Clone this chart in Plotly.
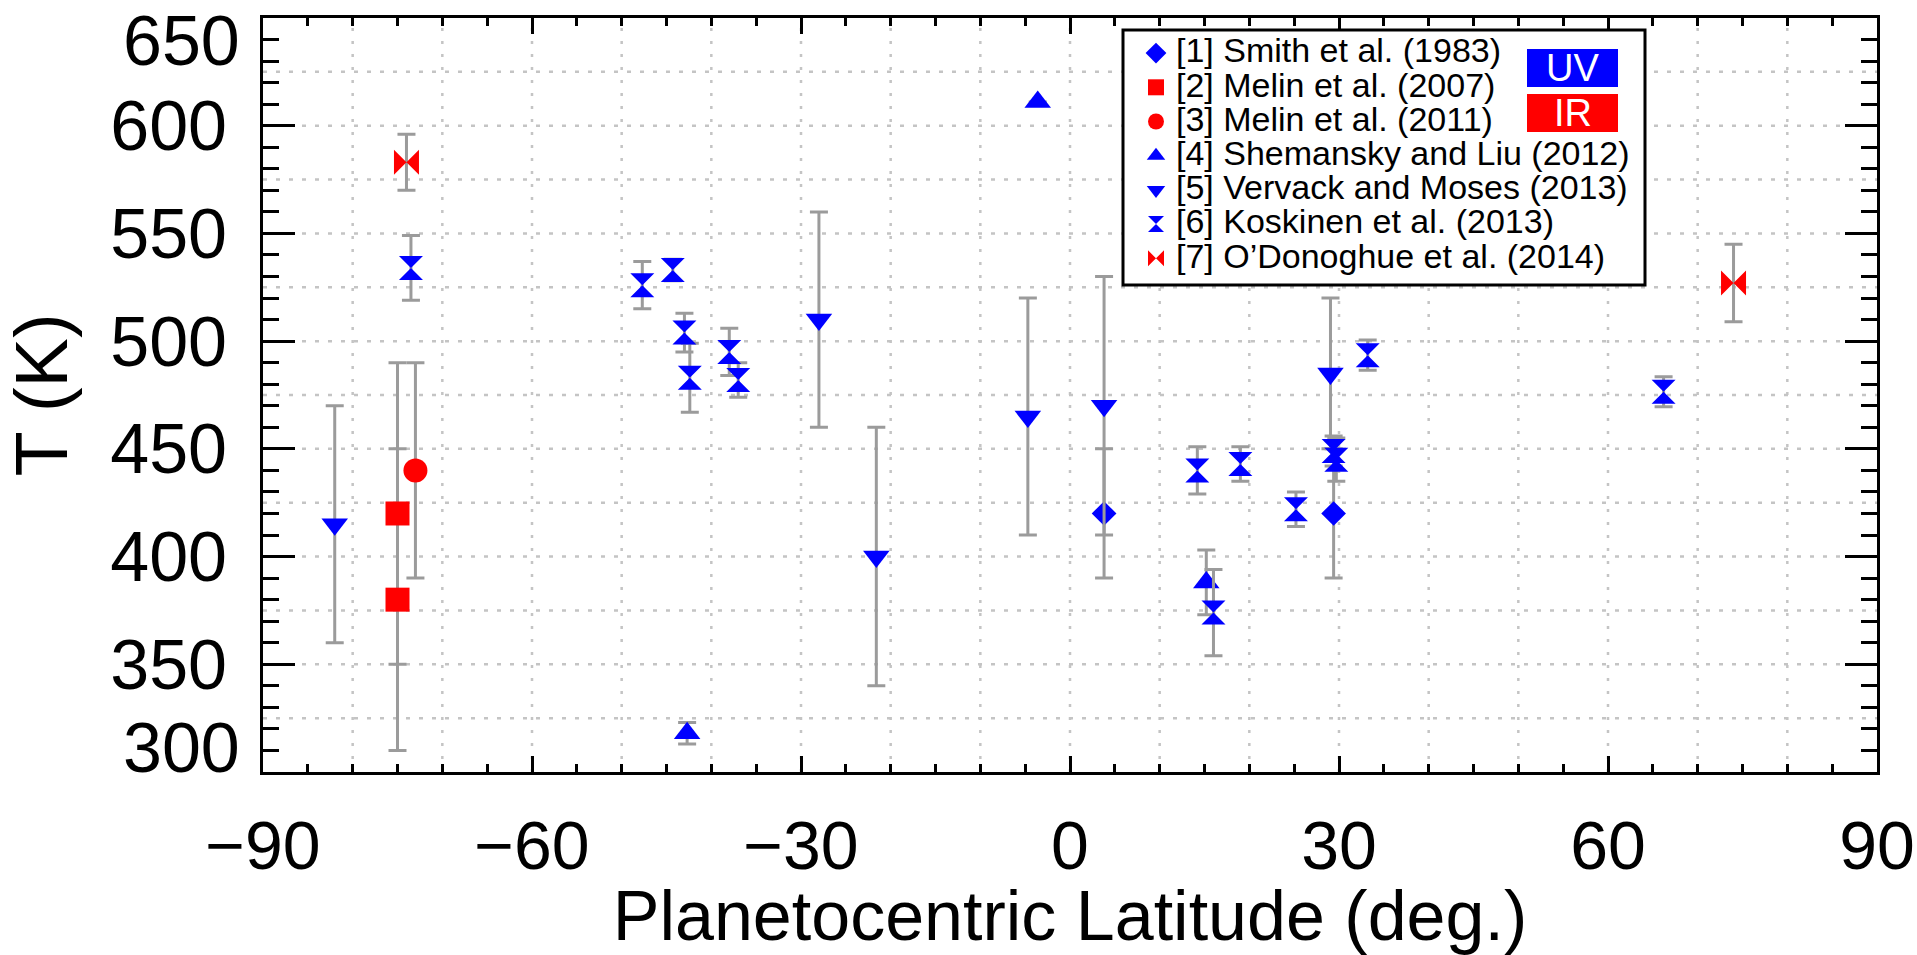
import plotly.graph_objects as go

# ---------------- data ----------------
smith_lat = [3.8, 29.4]
smith_T = [420, 420]
smith_err = [30, 30]

melin07_lat = [-75.0, -75.0]
melin07_T = [420, 380]
melin07_err = [70, 70]

melin11_lat = [-73.0]
melin11_T = [440]
melin11_err = [50]

shem_lat = [-42.7, -3.6, 15.2]
shem_T = [318, 611, 388]
shem_err = [5, 0, 15]

verv_lat = [-82.0, -28.0, -21.6, -4.7, 3.8, 29.05]
verv_T = [415, 510, 400, 465, 470, 485]
verv_err = [55, 50, 60, 55, 60, 35]

kosk_lat = [-73.5, -47.7, -44.3, -43.0, -42.4, -38.0, -37.0,
            14.2, 16.0, 19.0, 25.2, 29.4, 29.7, 33.2, 66.2]
kosk_T = [534, 526, 533, 504, 483, 495, 482,
          440, 374, 443, 422, 449, 445, 493.5, 476.5]
kosk_err = [15, 11, 5, 9, 16, 11, 8,
            11, 20, 8, 8, 7, 10, 7, 7]

odon_lat = [-74.0, 74.0]
odon_T = [583, 527]
odon_err = [13, 18]

names = ["[1] Smith et al. (1983)",
         "[2] Melin et al. (2007)",
         "[3] Melin et al. (2011)",
         "[4] Shemansky and Liu (2012)",
         "[5] Vervack and Moses (2013)",
         "[6] Koskinen et al. (2013)",
         "[7] O\u2019Donoghue et al. (2014)"]

x_range = [-90, 90]
x_ticks = [-90, -60, -30, 0, 30, 60, 90]
y_range = [300, 650]
y_ticks = [300, 350, 400, 450, 500, 550, 600, 650]

# ---------------- styling ----------------
FONT = "Liberation Sans, Arial, Helvetica, sans-serif"
BLUE = "#0000ff"
RED = "#ff0000"
GRAY = "#9b9b9b"
GRID = "#c4c4c4"

W, H = 1917, 955
ML, MR, MT, MB = 263, 40, 18, 183
PW, PH = W - ML - MR, H - MT - MB


def pxx(p):
    return (p - ML) / PW


def pxy(p):
    return (H - MB - p) / PH


series = [
    (names[0], smith_lat, smith_T, smith_err, "diamond", BLUE, 19),
    (names[1], melin07_lat, melin07_T, melin07_err, "square", RED, 24),
    (names[2], melin11_lat, melin11_T, melin11_err, "circle", RED, 24),
    (names[3], shem_lat, shem_T, shem_err, "triangle-up", BLUE, 23),
    (names[4], verv_lat, verv_T, verv_err, "triangle-down", BLUE, 23),
    (names[5], kosk_lat, kosk_T, kosk_err, "hourglass", BLUE, 24),
    (names[6], odon_lat, odon_T, odon_err, "bowtie", RED, 25),
]

fig = go.Figure()
for name, xs, ys, es, sym, col, size in series:
    fig.add_trace(go.Scatter(
        x=xs, y=ys, mode="markers",
        name="<span style='font-size:34px'>" + name + "</span>",
        marker=dict(symbol=sym, color=col, size=size, line=dict(width=0)),
        error_y=dict(type="data", array=es, visible=True, color=GRAY,
                     thickness=3, width=9),
    ))

shapes = []
# dotted grid
for gx in range(-80, 90, 10):
    shapes.append(dict(type="line", xref="x", yref="paper", x0=gx, x1=gx,
                       y0=0, y1=1, layer="below",
                       line=dict(color=GRID, width=2.5, dash="3px,10px")))
for gy in range(325, 650, 25):
    shapes.append(dict(type="line", xref="paper", yref="y", x0=0, x1=1,
                       y0=gy, y1=gy, layer="below",
                       line=dict(color=GRID, width=2.5, dash="4px,9px")))
# legend frame
shapes.append(dict(type="rect", xref="paper", yref="paper",
                   x0=pxx(1123), x1=pxx(1645), y0=pxy(285), y1=pxy(30),
                   fillcolor="white", line=dict(color="black", width=3),
                   layer="above"))
# UV / IR boxes
shapes.append(dict(type="rect", xref="paper", yref="paper",
                   x0=pxx(1527), x1=pxx(1618), y0=pxy(87), y1=pxy(49),
                   fillcolor=BLUE, line=dict(width=0), layer="above"))
shapes.append(dict(type="rect", xref="paper", yref="paper",
                   x0=pxx(1527), x1=pxx(1618), y0=pxy(132), y1=pxy(94),
                   fillcolor=RED, line=dict(width=0), layer="above"))

annotations = [
    dict(text="UV", xref="paper", yref="paper", x=pxx(1572.5), y=pxy(68),
         xanchor="center", yanchor="middle", showarrow=False,
         font=dict(family=FONT, size=38, color="white")),
    dict(text="IR", xref="paper", yref="paper", x=pxx(1572.5), y=pxy(113),
         xanchor="center", yanchor="middle", showarrow=False,
         font=dict(family=FONT, size=38, color="white")),
    dict(text=str(y_ticks[-1]), xref="paper", yref="paper", x=pxx(242), y=pxy(41),
         xanchor="right", yanchor="middle", showarrow=False,
         font=dict(family=FONT, size=70, color="black")),
    dict(text=str(y_ticks[0]), xref="paper", yref="paper", x=pxx(242), y=pxy(748),
         xanchor="right", yanchor="middle", showarrow=False,
         font=dict(family=FONT, size=70, color="black")),
]

fig.update_layout(
    width=W, height=H, autosize=False,
    margin=dict(l=ML, r=MR, t=MT, b=MB, pad=0, autoexpand=False),
    paper_bgcolor="white", plot_bgcolor="white",
    font=dict(family=FONT, color="black"),
    showlegend=True,
    legend=dict(x=pxx(1136), y=pxy(31), xanchor="left", yanchor="top",
                bgcolor="rgba(0,0,0,0)", borderwidth=0,
                font=dict(family=FONT, size=24, color="black")),
    shapes=shapes,
    annotations=annotations,
    xaxis=dict(
        range=x_range, tickmode="array", tickvals=x_ticks,
        ticktext=[("\u2212" + str(-v)) if v < 0 else str(v) for v in x_ticks],
        ticks="inside", ticklen=16, tickwidth=3, tickcolor="black",
        showline=True, linewidth=3, linecolor="black", mirror="allticks",
        showgrid=False, zeroline=False, automargin=False,
        tickfont=dict(family=FONT, size=68, color="black"),
        ticklabelstandoff=12,
        minor=dict(tickmode="linear", tick0=-90, dtick=5, ticks="inside",
                   ticklen=8, tickwidth=3, tickcolor="black", showgrid=False),
        title=dict(text="Planetocentric Latitude (deg.)",
                   font=dict(family=FONT, size=70, color="black"), standoff=22),
    ),
    yaxis=dict(
        range=y_range, tickmode="array", tickvals=y_ticks,
        ticktext=[""] + [str(v) for v in y_ticks[1:-1]] + [""],
        ticks="inside", ticklen=32, tickwidth=3, tickcolor="black",
        showline=True, linewidth=3, linecolor="black", mirror="allticks",
        showgrid=False, zeroline=False, automargin=False,
        tickfont=dict(family=FONT, size=70, color="black"),
        ticklabelstandoff=19,
        minor=dict(tickmode="linear", tick0=300, dtick=10, ticks="inside",
                   ticklen=16, tickwidth=3, tickcolor="black", showgrid=False),
        title=dict(text="T (K)", font=dict(family=FONT, size=74, color="black"),
                   standoff=30),
    ),
)

fig.write_html("out.html", config={"displayModeBar": False},
               post_script="document.body.style.margin='0';document.body.style.overflow='hidden';")
